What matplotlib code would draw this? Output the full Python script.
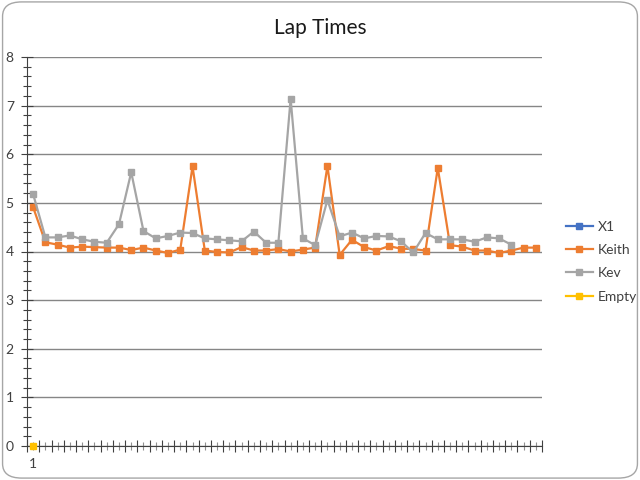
import matplotlib
matplotlib.use('Agg')
import matplotlib.pyplot as plt
from matplotlib.patches import FancyBboxPatch
from matplotlib.ticker import MultipleLocator, FixedLocator
import numpy as np

plt.rcParams['font.family'] = ['Lato', 'DejaVu Sans']

# lap times per lap
keith = [4.91, 4.19, 4.14, 4.08, 4.10, 4.09, 4.08, 4.08, 4.03, 4.08,
         4.02, 3.97, 4.04, 5.75, 4.02, 3.99, 3.98, 4.09, 4.02, 4.02,
         4.05, 4.00, 4.04, 4.08, 5.76, 3.93, 4.24, 4.09, 4.02, 4.11,
         4.06, 4.05, 4.02, 5.72, 4.13, 4.10, 4.02, 4.02, 3.97, 4.02,
         4.08, 4.08]
kev = [5.18, 4.29, 4.29, 4.33, 4.25, 4.20, 4.18, 4.56, 5.63, 4.42,
       4.27, 4.32, 4.39, 4.38, 4.27, 4.25, 4.23, 4.21, 4.41, 4.18,
       4.18, 7.14, 4.27, 4.13, 5.06, 4.31, 4.39, 4.27, 4.32, 4.31,
       4.21, 3.98, 4.38, 4.25, 4.25, 4.25, 4.20, 4.29, 4.27, 4.14]
x1 = []
empty = [0]

series = [('X1', x1, '#4472C4'),
          ('Keith', keith, '#ED7D31'),
          ('Kev', kev, '#A5A5A5'),
          ('Empty', empty, '#FFC000')]

n_cat = 42

fig = plt.figure(figsize=(6.4, 4.8), dpi=100)
border = FancyBboxPatch((0.004, 0.004), 0.992, 0.992,
                        boxstyle='round,pad=0,rounding_size=0.03',
                        transform=fig.transFigure, fc='none', ec='#A6A6A6', lw=1.0)
fig.patches.append(border)

ax = fig.add_axes([27/640, 34/480, 515/640, 389/480])
ax.set_facecolor('none')

for name, vals, col in series:
    xs = np.arange(1, len(vals) + 1)
    ax.plot(xs, vals, color=col, lw=1.6, marker='s', ms=4.5, label=name,
            clip_on=False, zorder=3)

ax.set_xlim(0.5, n_cat + 0.5)
ax.set_ylim(0, 8)

ax.yaxis.set_major_locator(MultipleLocator(1))
ax.yaxis.set_minor_locator(MultipleLocator(0.2))
ax.grid(axis='y', which='major', color='#868686', lw=1.0)
ax.set_axisbelow(True)

ax.xaxis.set_major_locator(FixedLocator(np.arange(0.5, n_cat + 1, 1)))
ax.xaxis.set_minor_locator(FixedLocator(np.arange(1, n_cat + 1, 1)))
ax.xaxis.set_major_formatter(plt.NullFormatter())
ax.xaxis.set_minor_formatter(plt.FuncFormatter(lambda v, p: '1' if abs(v - 1) < 0.01 else ''))

ax.tick_params(axis='x', which='major', direction='inout', length=9, width=0.8,
               color='#404040')
ax.tick_params(axis='x', which='minor', direction='inout', length=6, width=0.8,
               color='#909090', labelsize=10, pad=6, labelcolor='#404040')
ax.tick_params(axis='y', which='major', direction='inout', length=9, width=0.8,
               color='#404040', labelsize=10, labelcolor='#404040', pad=5)
ax.tick_params(axis='y', which='minor', direction='inout', length=6, width=0.8,
               color='#404040')

for s in ['top', 'right']:
    ax.spines[s].set_visible(False)
ax.spines['left'].set_color('#404040')
ax.spines['bottom'].set_color('#404040')

fig.text(0.5, 0.942, 'Lap Times', ha='center', va='center', fontsize=15,
         color='#1a1a1a')

leg = fig.legend(loc='center left', bbox_to_anchor=(553/640, 0.455), frameon=False,
                 fontsize=10, handlelength=2.0, handletextpad=0.3,
                 labelspacing=0.82)
for t in leg.get_texts():
    t.set_color('#404040')

fig.savefig('out.png', dpi=100)
